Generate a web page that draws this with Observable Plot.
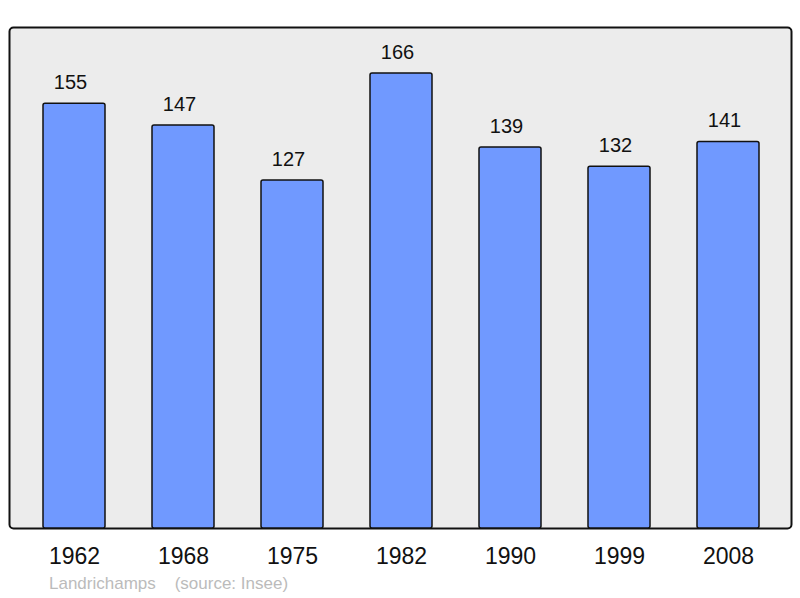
<!DOCTYPE html>
<html>
<head>
<meta charset="utf-8">
<script src="https://cdn.jsdelivr.net/npm/d3@7"></script>
<script src="https://cdn.jsdelivr.net/npm/@observablehq/plot@0.6"></script>
<style>
body { margin: 0; background: #fff; font-family: "Liberation Sans", Arial, sans-serif; }
#caption { height: 26px; line-height: 28px; padding-left: 49px; font-size: 17px; color: #bbbbbb; white-space: pre; }
</style>
</head>
<body>
<div id="chart"></div>
<div id="caption">Landrichamps    (source: Insee)</div>
<script>
const years = ["1962", "1968", "1975", "1982", "1990", "1999", "2008"];
const population = [155, 147, 127, 166, 139, 132, 141];

const data = years.map((year, i) => ({year, value: population[i]}));

const chart = Plot.plot({
  width: 800,
  height: 570,
  marginTop: 27,
  marginBottom: 42,
  marginLeft: 9,
  marginRight: 9,
  style: {fontFamily: "'Liberation Sans', Arial, sans-serif", background: "transparent"},
  x: {domain: years, range: [18.3, 784.2], paddingInner: 0.433, paddingOuter: 0.2165, label: null},
  y: {domain: [0, 182.8], axis: null},
  marks: [
    Plot.frame({fill: "#ececec", stroke: "#111", strokeWidth: 2, rx: 4}),
    Plot.barY(data, {x: "year", y: "value", fill: "#7099ff", stroke: "#111", strokeWidth: 1.5, rx: 2}),
    Plot.text(data, {x: "year", y: "value", text: d => String(d.value), dx: -4, dy: -21, fontSize: 20, fill: "#111", lineAnchor: "middle"}),
    Plot.axisX({tickSize: 0, tickPadding: 19, fontSize: 23, fill: "#111", label: null})
  ]
});
document.getElementById("chart").appendChild(chart);
</script>
</body>
</html>
